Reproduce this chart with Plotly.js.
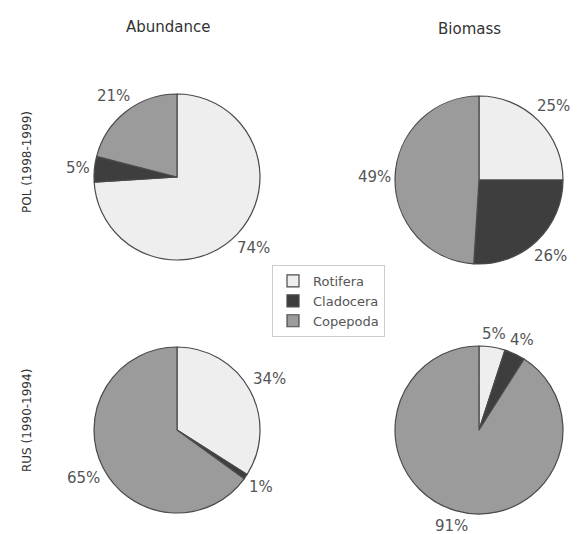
<!DOCTYPE html>
<html>
<head>
<meta charset="utf-8">
<script src="https://cdn.plot.ly/plotly-3.0.1.min.js"></script>
<style>html,body{margin:0;padding:0;background:#fff;}#chart{width:586px;height:534px;}</style>
</head>
<body>
<div id="chart"></div>
<script>
// ---- data ----
var groups = ["Rotifera", "Cladocera", "Copepoda"];
var columnTitles = ["Abundance", "Biomass"];
var rowTitles = ["POL (1998-1999)", "RUS (1990-1994)"];
var polAbundance = [74, 5, 21];
var polBiomass = [25, 26, 49];
var rusAbundance = [34, 1, 65];
var rusBiomass = [5, 4, 91];

// ---- style / layout ----
var W = 586, H = 534;
var colors = ["#eeeeee", "#3e3e3e", "#9b9b9b"];
var FONT = "DejaVu Sans, Arial, sans-serif";
var LABEL_SIZE = 15;

function dom(cx, cy, r) {
  return {x: [(cx - r) / W, (cx + r) / W], y: [1 - (cy + r) / H, 1 - (cy - r) / H]};
}

var annotations = [];

// percentage labels placed just outside the slice mid-angle, derived from the values
function addLabels(values, cx, cy, r) {
  var total = values.reduce(function (a, b) { return a + b; }, 0);
  var cum = 0;
  values.forEach(function (v) {
    var mid = (cum + v / 2) / total * 2 * Math.PI; // clockwise from 12 o'clock
    cum += v;
    var ux = Math.sin(mid), uy = -Math.cos(mid);
    var txt = v + "%";
    var w = (0.636 * (txt.length - 1) + 0.95) * LABEL_SIZE;
    var h = LABEL_SIZE;
    var d = r + 4 + Math.abs(ux) * w / 2 + Math.abs(uy) * h / 2;
    annotations.push({
      text: txt, x: (cx + ux * d) / W, y: 1 - (cy + uy * d) / H,
      xref: "paper", yref: "paper", xanchor: "center", yanchor: "middle",
      showarrow: false, font: {family: FONT, size: LABEL_SIZE, color: "#555555"}
    });
  });
}

function pie(values, cx, cy, r) {
  addLabels(values, cx, cy, r);
  return {
    type: "pie",
    labels: groups,
    values: values,
    sort: false,
    direction: "clockwise",
    rotation: 0,
    domain: dom(cx, cy, r),
    marker: {colors: colors, line: {color: "#4a4a4a", width: 1.2}},
    textinfo: "none",
    hoverinfo: "label+value"
  };
}

var data = [
  pie(polAbundance, 177, 177, 83),
  pie(polBiomass, 479, 180, 84),
  pie(rusAbundance, 177, 430, 83),
  pie(rusBiomass, 479, 430, 84)
];

annotations.push(
  {text: columnTitles[0], x: 168 / W, y: 1 - 27 / H, xref: "paper", yref: "paper",
   xanchor: "center", yanchor: "middle",
   showarrow: false, font: {family: FONT, size: 15, color: "#333333"}},
  {text: columnTitles[1], x: 469 / W, y: 1 - 29 / H, xref: "paper", yref: "paper",
   xanchor: "center", yanchor: "middle",
   showarrow: false, font: {family: FONT, size: 15, color: "#333333"}},
  {text: rowTitles[0], x: 27 / W, y: 1 - 162 / H, xref: "paper", yref: "paper",
   xanchor: "center", yanchor: "middle",
   showarrow: false, textangle: -90, font: {family: FONT, size: 12, color: "#333333"}},
  {text: rowTitles[1], x: 27 / W, y: 1 - 421 / H, xref: "paper", yref: "paper",
   xanchor: "center", yanchor: "middle",
   showarrow: false, textangle: -90, font: {family: FONT, size: 12, color: "#333333"}}
);

var layout = {
  width: W, height: H,
  margin: {l: 0, r: 0, t: 0, b: 0},
  paper_bgcolor: "#ffffff",
  showlegend: true,
  legend: {
    x: 272 / W, y: 1 - 265 / H, xanchor: "left", yanchor: "top",
    bordercolor: "#cccccc", borderwidth: 1, bgcolor: "#ffffff",
    font: {family: FONT, size: 13, color: "#555555"},
    itemwidth: 30,
    traceorder: "normal"
  },
  annotations: annotations
};

Plotly.newPlot("chart", data, layout, {displayModeBar: false, staticPlot: true});
</script>
</body>
</html>
